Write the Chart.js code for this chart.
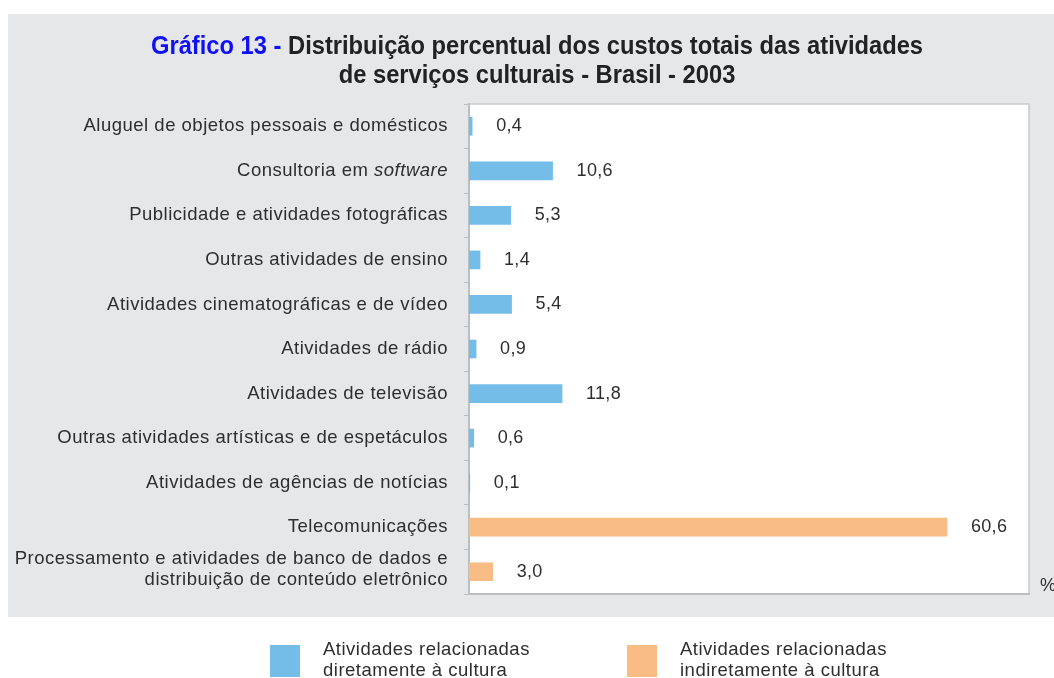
<!DOCTYPE html>
<html>
<head>
<meta charset="utf-8">
<script src="https://cdn.jsdelivr.net/npm/chart.js@4"></script>
<style>
  body { margin: 0; background: #fff; }
</style>
</head>
<body>
<canvas id="grafico" width="1054" height="678"></canvas>
<script>
var categorias = [
    'Aluguel de objetos pessoais e domésticos',
    'Consultoria em software',
    'Publicidade e atividades fotográficas',
    'Outras atividades de ensino',
    'Atividades cinematográficas e de vídeo',
    'Atividades de rádio',
    'Atividades de televisão',
    'Outras atividades artísticas e de espetáculos',
    'Atividades de agências de notícias',
    'Telecomunicações',
    ['Processamento e atividades de banco de dados e', 'distribuição de conteúdo eletrônico']
];
var diretamente = [0.4, 10.6, 5.3, 1.4, 5.4, 0.9, 11.8, 0.6, 0.1, null, null];
var indiretamente = [null, null, null, null, null, null, null, null, null, 60.6, 3.0];
var legendas = [
    ['Atividades relacionadas', 'diretamente à cultura'],
    ['Atividades relacionadas', 'indiretamente à cultura']
];
var tituloAzul = 'Gráfico 13 - ';
var titulo = ['Distribuição percentual dos custos totais das atividades', 'de serviços culturais - Brasil - 2003'];

var azul = '#74bde8';
var laranja = '#f9bc85';
var texto = '#2e2e2e';
var fonte = '"Liberation Sans", Arial, sans-serif';
var italicas = ['software'];

function virgula(v) {
    return v.toFixed(1).replace('.', ',');
}

function fonteTexto(c, it) {
    c.font = (it ? 'italic ' : '') + '18.5px ' + fonte;
    c.letterSpacing = '0.5px';
}

// desenha um rótulo alinhado à direita, com palavras em itálico
function rotulo(c, s, xDir, y) {
    var partes = s.split(' ');
    var x = xDir;
    c.textAlign = 'left';
    for (var i = partes.length - 1; i >= 0; i--) {
        var p = (i > 0 ? ' ' : '') + partes[i];
        fonteTexto(c, italicas.indexOf(partes[i]) >= 0);
        var w = c.measureText(p).width;
        c.fillText(p, x - w, y);
        x -= w;
    }
}

var fundo = {
    id: 'fundo',
    beforeDraw: function(chart) {
        var c = chart.ctx, a = chart.chartArea;
        c.save();
        c.fillStyle = '#e6e7e9';
        c.fillRect(8, 14, chart.width - 8, 603);
        c.fillStyle = '#fff';
        c.fillRect(a.left, a.top, a.right - a.left, a.bottom - a.top);
        c.strokeStyle = '#c9cacc';
        c.lineWidth = 1.5;
        c.beginPath();
        c.moveTo(a.left, a.top);
        c.lineTo(a.right, a.top);
        c.lineTo(a.right, a.bottom);
        c.stroke();
        c.restore();
    },
    afterDraw: function(chart) {
        var c = chart.ctx, a = chart.chartArea;
        var y = chart.scales.y;
        c.save();
        c.fillStyle = texto;
        c.textBaseline = 'middle';

        // título (um pouco condensado)
        c.font = 'bold 26px ' + fonte;
        var wa = c.measureText(tituloAzul).width;
        var w1 = c.measureText(titulo[0]).width;
        var k = 772 / (wa + w1);
        c.save();
        c.translate(537, 0);
        c.scale(k, 1);
        c.textAlign = 'left';
        var x0 = -(wa + w1) / 2;
        c.fillStyle = '#1010f5';
        c.fillText(tituloAzul, x0, 47);
        c.fillStyle = '#222';
        c.fillText(titulo[0], x0 + wa, 47);
        c.textAlign = 'center';
        c.fillText(titulo[1], 0, 76);
        c.restore();

        // rótulos das categorias
        categorias.forEach(function(cat, i) {
            var py = y.getPixelForTick(i);
            if (Array.isArray(cat)) {
                rotulo(c, cat[0], 448, py - 13);
                rotulo(c, cat[1], 448, py + 8);
            } else {
                rotulo(c, cat, 448, py);
            }
        });

        // valores
        c.font = '18px ' + fonte;
        c.letterSpacing = '0.3px';
        c.textAlign = 'left';
        chart.data.datasets.forEach(function(ds, d) {
            chart.getDatasetMeta(d).data.forEach(function(el, i) {
                var v = ds.data[i];
                if (v === null) return;
                c.fillText(virgula(v), el.x + 24, el.y);
            });
        });
        c.fillText('%', a.right + 11, a.bottom - 8);

        // legenda
        var cores = [azul, laranja];
        var xs = [270, 627];
        legendas.forEach(function(l, i) {
            c.fillStyle = cores[i];
            c.fillRect(xs[i], 645, 30, 32);
            c.fillStyle = texto;
            fonteTexto(c, false);
            c.fillText(l[0], xs[i] + 53, 650);
            c.fillText(l[1], xs[i] + 53, 671);
        });
        c.restore();
    }
};

var ctx = document.getElementById('grafico').getContext('2d');
var grafico = new Chart(ctx, {
    type: 'bar',
    data: {
        labels: categorias,
        datasets: [{
            label: legendas[0].join(' '),
            data: diretamente,
            backgroundColor: azul,
            grouped: false,
            barThickness: 18
        }, {
            label: legendas[1].join(' '),
            data: indiretamente,
            backgroundColor: laranja,
            grouped: false,
            barThickness: 18
        }]
    },
    options: {
        indexAxis: 'y',
        responsive: false,
        animation: false,
        layout: { padding: { top: 104, right: 25, bottom: 84, left: 0 } },
        plugins: {
            legend: { display: false },
            title: { display: false },
            tooltip: { enabled: false }
        },
        scales: {
            x: {
                min: 0,
                max: 71,
                ticks: { display: false },
                grid: { display: false, drawTicks: false },
                border: { color: '#bdbec0', width: 2 },
                afterFit: function(s) { s.height = 0; }
            },
            y: {
                ticks: { color: 'rgba(0,0,0,0)', font: { size: 16 }, padding: 14 },
                grid: { offset: true, drawOnChartArea: false, tickLength: 5, color: '#bdbec0' },
                border: { color: '#bdbec0', width: 2 },
                afterFit: function(s) { s.width = 469; }
            }
        }
    },
    plugins: [fundo]
});
</script>
</body>
</html>
